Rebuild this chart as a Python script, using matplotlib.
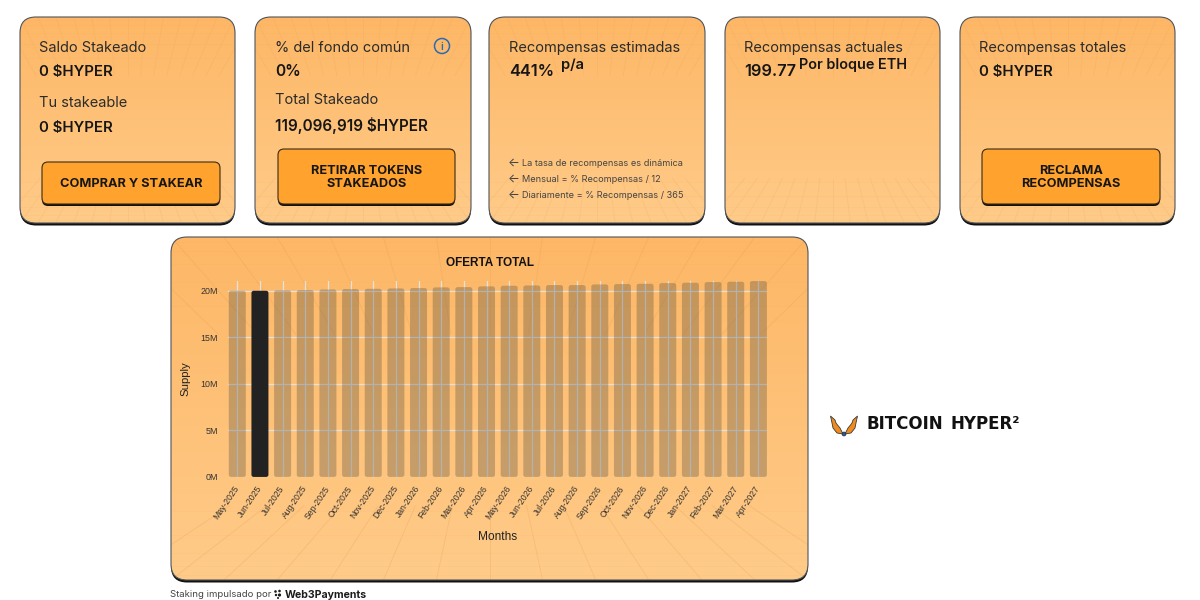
import numpy as np
import matplotlib
matplotlib.use('Agg')
import matplotlib.pyplot as plt
from matplotlib.patches import FancyBboxPatch, Circle, Polygon
from matplotlib.colors import LinearSegmentedColormap
from matplotlib.transforms import ScaledTranslation

months = ['May-2025', 'Jun-2025', 'Jul-2025', 'Aug-2025', 'Sep-2025', 'Oct-2025',
          'Nov-2025', 'Dec-2025', 'Jan-2026', 'Feb-2026', 'Mar-2026', 'Apr-2026',
          'May-2026', 'Jun-2026', 'Jul-2026', 'Aug-2026', 'Sep-2026', 'Oct-2026',
          'Nov-2026', 'Dec-2026', 'Jan-2027', 'Feb-2027', 'Mar-2027', 'Apr-2027']
supply = [20.0, 20.0, 20.04, 20.07, 20.14, 20.18, 20.21, 20.25, 20.29, 20.36, 20.39, 20.47,
          20.54, 20.57, 20.61, 20.61, 20.68, 20.72, 20.75, 20.82, 20.86, 20.93, 20.97, 21.04]
highlight_month = 'Jun-2025'
y_ticks = [0, 5, 10, 15, 20]
y_labels = ['0M', '5M', '10M', '15M', '20M']

plt.rcParams['font.family'] = ['Inter', 'DejaVu Sans']

fig = plt.figure(figsize=(12, 6), dpi=100)
bg = fig.add_axes([0, 0, 1, 1])
bg.set_xlim(0, 1200)
bg.set_ylim(600, 0)
bg.axis('off')

card_cmap = LinearSegmentedColormap.from_list('card', ['#fdb766', '#ffcb89'])
btn_color = '#ffa32e'
text_dark = '#2b2b2b'
text_bold = '#161616'


def rounded(x0, y0, x1, y1, r, **kw):
    return FancyBboxPatch((x0 + r, y0 + r), x1 - x0 - 2 * r, y1 - y0 - 2 * r,
                          boxstyle='round,pad=%g,rounding_size=%g' % (r, r), **kw)


def draw_card(x0, y0, x1, y1, r=16, ray_alpha=0.14):
    bg.add_patch(rounded(x0, y0 + 2.5, x1, y1 + 2.5, r, fc='#111111', ec='none', zorder=1))
    clip = rounded(x0, y0, x1, y1, r, fc='none', ec='none', zorder=2)
    bg.add_patch(clip)
    grad = np.linspace(0, 1, 256).reshape(-1, 1)
    im = bg.imshow(grad, extent=(x0, x1, y1, y0), cmap=card_cmap, aspect='auto', zorder=2)
    im.set_clip_path(clip)
    # faint perspective floor and ceiling
    w = x1 - x0
    h = y1 - y0
    cx = (x0 + x1) / 2
    for i in range(-7, 8):
        xa = cx + i / 6 * w / 2
        # top edge lines head for a far point, bottom ones for a nearer one
        for ya, vy, stop in [(y0, y0 + 1.05 * h, 0.27), (y1, y1 - 0.72 * h, 0.3)]:
            yb = ya + (vy - ya) * stop
            xb = xa + (cx - xa) * stop
            ln, = bg.plot([xa, xb], [ya, yb], color='#e49a4e', alpha=ray_alpha, lw=0.7, zorder=3)
            ln.set_clip_path(clip)
    for f in [0.015, 0.04, 0.08, 0.13, 0.2]:
        for yy in [y0 + f * h, y1 - f * h]:
            ln, = bg.plot([x0, x1], [yy, yy], color='#e49a4e', alpha=0.08, lw=0.6, zorder=3)
            ln.set_clip_path(clip)
    bg.add_patch(rounded(x0, y0, x1, y1, r, fc='none', ec='#50545b', lw=0.8, zorder=4))


def draw_button(x0, y0, x1, y1, lines):
    bg.add_patch(rounded(x0, y0 + 2, x1, y1 + 2, 6, fc='#111111', ec='none', zorder=5))
    bg.add_patch(rounded(x0, y0, x1, y1, 6, fc=btn_color, ec='#3a2a14', lw=0.8, zorder=6))
    cx = (x0 + x1) / 2
    cy = (y0 + y1) / 2
    for i, s in enumerate(lines):
        yy = cy + 1 + (i - (len(lines) - 1) / 2) * 13
        bg.text(cx, yy, s, fontsize=9.2, fontweight='bold', color=text_bold,
                ha='center', va='center', zorder=7)


def label(x, y, s, size=10.5, weight='normal', color=text_dark):
    bg.text(x, y + 1, s, fontsize=size, fontweight=weight, color=color, ha='left',
            va='center', zorder=7)


draw_card(20, 17, 235, 223)
draw_card(255, 17, 471, 223)
draw_card(489, 17, 705, 223)
draw_card(725, 17, 940, 223)
draw_card(960, 17, 1175, 223)
draw_card(171, 237, 808, 580, ray_alpha=0.24)

label(39, 47, 'Saldo Stakeado')
label(39, 71, '0 $HYPER', size=10.8, weight='semibold', color=text_bold)
label(39, 102, 'Tu stakeable')
label(39, 127, '0 $HYPER', size=10.8, weight='semibold', color=text_bold)
draw_button(42, 162, 220, 204, ['COMPRAR Y STAKEAR'])

label(275, 47, '% del fondo común')
label(275, 71, '0%', size=11.2, weight='semibold', color=text_bold)
label(275, 99, 'Total Stakeado')
label(275, 125, '119,096,919 $HYPER', size=11, weight='semibold', color=text_bold)
draw_button(278, 149, 455, 204, ['RETIRAR TOKENS', 'STAKEADOS'])
bg.add_patch(Circle((442, 46), 7.5, fc='none', ec='#2b6cb0', lw=1.1, zorder=7))
bg.text(442, 46.5, 'i', fontsize=7.5, fontweight='semibold', color='#2b6cb0', ha='center',
        va='center', zorder=7)

label(509, 47, 'Recompensas estimadas')
label(509, 71, '441%', size=11.8, weight='semibold', color=text_bold)
label(561, 64, 'p/a', size=10.5, weight='semibold', color=text_bold)
for yy, s in [(163, 'La tasa de recompensas es dinámica'),
              (179, 'Mensual = % Recompensas / 12'),
              (195, 'Diariamente = % Recompensas / 365')]:
    label(508, yy - 1.5, '←', size=9, color='#444444')
    label(522, yy, s, size=6.6, color='#444444')

label(744, 47, 'Recompensas actuales')
label(744, 71, '199.77', size=11.8, weight='semibold', color=text_bold)
label(799, 64, 'Por bloque ETH', size=10.4, weight='semibold', color=text_bold)

label(979, 47, 'Recompensas totales')
label(979, 71, '0 $HYPER', size=10.8, weight='semibold', color=text_bold)
draw_button(982, 149, 1160, 204, ['RECLAMA', 'RECOMPENSAS'])

# footer
label(170, 593.5, 'Staking impulsado por', size=6.9, color='#444444')
label(285, 593.5, 'Web3Payments', size=7.6, weight='bold', color='#1c1c1c')
for px, py, pr in [(275.5, 591.5, 1.3), (279.5, 591, 1.3), (276, 595, 1.2), (279.5, 595, 1.6),
                   (278, 598, 1.0)]:
    bg.add_patch(Circle((px, py), pr, fc='#1c1c1c', ec='none', zorder=7))

# logo
for sign in [-1, 1]:
    wing = [(844 + sign * 1, 434), (844 + sign * 7, 433), (844 + sign * 11, 428),
            (844 + sign * 12, 423), (844 + sign * 13.5, 416), (844 + sign * 9, 420),
            (844 + sign * 8, 423), (844 + sign * 6.5, 425), (844 + sign * 4, 428)]
    bg.add_patch(Polygon(wing, fc='#f08c1e', ec='#3a3a3a', lw=0.6, zorder=7))
bg.add_patch(Circle((844, 434), 2, fc='#2b5a96', ec='#222222', lw=0.4, zorder=8))
bg.text(866.5, 424, 'BITCOIN', fontsize=12, fontweight='bold', color='#111111',
        family='DejaVu Sans', ha='left', va='center', zorder=7)
bg.text(951, 424, 'HYPER²', fontsize=12, fontweight='bold', color='#111111',
        family='DejaVu Sans', ha='left', va='center', zorder=7)

# chart, axes pinned on the card
ax = fig.add_axes([228 / 1200, 1 - 477 / 600, (767 - 228) / 1200, (477 - 281) / 600])
ax.patch.set_alpha(0)
x = np.arange(len(months))
ax.set_xlim(-0.41, 23.38)
ax.set_ylim(0, 21.04)

bar_w = 0.75
for xi, m, v in zip(x, months, supply):
    col = '#222222' if m == highlight_month else '#45443a'
    a = 1 if m == highlight_month else 0.3
    ax.add_patch(FancyBboxPatch((xi - bar_w / 2 + 0.1, 0.25), bar_w - 0.2, v - 0.5,
                                boxstyle='round,pad=0.1,rounding_size=0.1',
                                mutation_aspect=2.43, fc=col, alpha=a, ec='none', zorder=2))
ax.set_xticks(x)
ax.set_xticklabels(months, rotation=56, ha='right', va='center', rotation_mode='anchor',
                   fontsize=6.2, color='#333333', family='Liberation Sans')
shift = ScaledTranslation(-1.5 / 100, 0, fig.dpi_scale_trans)
for lbl in ax.get_xticklabels():
    lbl.set_transform(lbl.get_transform() + shift)
ax.set_yticks(y_ticks)
ax.set_yticklabels(y_labels, fontsize=6.4, color='#333333', family='Liberation Sans')
ax.tick_params(length=0, pad=7)
ax.tick_params(axis='x', pad=7)
ax.grid(True, color='#e4e2df', lw=0.9, zorder=1)
ax.set_axisbelow(True)
for s in ax.spines.values():
    s.set_visible(False)

bg.text(489.5, 262.5, 'OFERTA TOTAL', fontsize=8.5, fontweight='bold', color='#111111',
        family='Liberation Sans', ha='center', va='center', zorder=7)
bg.text(498, 537.5, 'Months', fontsize=8.6, color='#222222', family='Liberation Sans',
        ha='center', va='center', zorder=7)
bg.text(185.5, 379, 'Supply', fontsize=8.2, color='#222222', family='Liberation Sans',
        rotation=90, ha='center', va='center', zorder=7)

fig.savefig('out.png', dpi=100)
